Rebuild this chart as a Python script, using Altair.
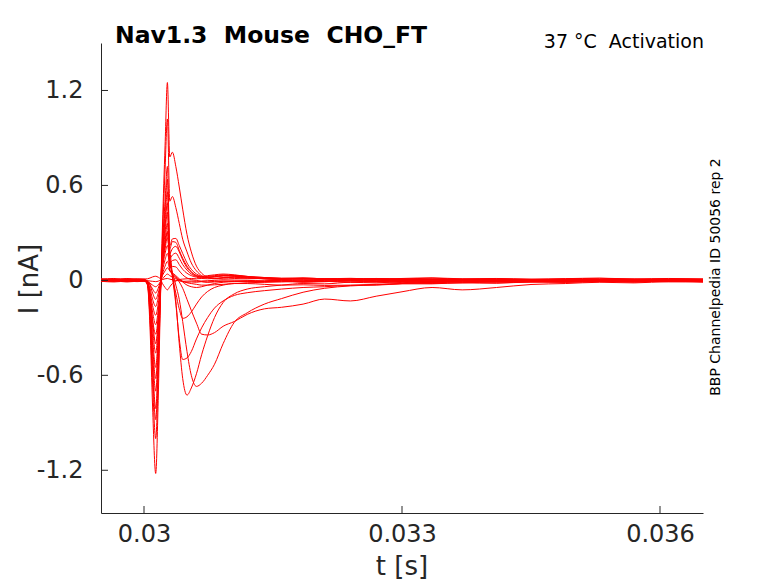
import altair as alt
import pandas as pd

# time grid in ms after 0.030 s
T_MS = [-0.5, -0.35, -0.2, -0.08,
        0.00, 0.04, 0.07, 0.10, 0.136, 0.165, 0.19, 0.215, 0.245, 0.272, 0.30, 0.33,
        0.37, 0.41, 0.45, 0.50, 0.55, 0.61, 0.67, 0.74, 0.82, 0.92, 1.05, 1.2,
        1.4, 1.6, 1.85, 2.1, 2.4, 2.7, 3.0, 3.35, 3.7, 4.1, 4.5, 4.9, 5.3, 5.7, 6.1, 6.5]

tr00 = [0.008, 0.012, 0.006, 0.01,
        0.008, 0.01, 0.015, 0.022, 0.026, 0.02, 0.01, -0.02, -0.045, -0.06, -0.04, -0.02,
        -0.005, 0.005, 0.008, 0.01, 0.012, 0.01, 0.012, 0.01, 0.012, 0.015, 0.012, 0.01,
        0.012, 0.008, 0.014, 0.01, 0.006, 0.012, 0.009, 0.014, 0.008, 0.011, 0.006, 0.01, 0.013, 0.008, 0.01, 0.007]
tr01 = [0.0, -0.004, 0.003, -0.002,
        0.0, -0.002, -0.004, -0.006, -0.008, -0.005, 0.0, 0.005, 0.01, 0.012, 0.008, 0.004,
        0.0, -0.003, -0.006, -0.005, -0.004, -0.006, -0.004, -0.002, 0.0, 0.004, 0.002, 0.0,
        -0.003, 0.002, -0.004, 0.0, 0.004, -0.002, 0.001, -0.004, 0.003, 0.0, -0.003, 0.002, -0.002, 0.003, -0.001, 0.002]
tr02 = [-0.006, -0.01, -0.005, -0.008,
        -0.006, -0.008, -0.018, -0.03, -0.04, -0.028, -0.01, 0.01, 0.028, 0.04, 0.03, 0.02,
        0.01, 0.0, -0.008, -0.012, -0.01, -0.012, -0.008, -0.01, -0.006, -0.004, -0.008, -0.006,
        -0.01, -0.006, -0.012, -0.008, -0.004, -0.01, -0.007, -0.011, -0.005, -0.009, -0.006, -0.01, -0.008, -0.004, -0.009, -0.006]
tr03 = [0.004, 0.0, 0.006, 0.002,
        0.002, -0.004, -0.025, -0.055, -0.08, -0.05, -0.01, 0.03, 0.06, 0.08, 0.06, 0.04,
        0.02, 0.005, -0.005, -0.015, -0.02, -0.025, -0.03, -0.03, -0.028, -0.025, -0.02, -0.015,
        -0.012, -0.01, -0.006, -0.008, -0.003, -0.006, -0.002, -0.005, 0.0, -0.004, 0.002, -0.002, 0.0, -0.003, 0.001, -0.002]
tr04 = [0.005, 0.0, 0.008, 0.003,
        0.0, -0.005, -0.03, -0.08, -0.12, -0.08, -0.02, 0.04, 0.09, 0.12, 0.07, 0.04,
        0.02, -0.01, -0.05, -0.12, -0.19, -0.27, -0.34, -0.345, -0.33, -0.29, -0.26, -0.215,
        -0.18, -0.17, -0.15, -0.118, -0.13, -0.1, -0.072, -0.045, -0.06, -0.045, -0.026, -0.02, -0.012, -0.016, -0.008, -0.012]
tr05 = [-0.005, 0.004, -0.003, 0.002,
        0.0, -0.01, -0.05, -0.12, -0.165, -0.11, -0.03, 0.06, 0.13, 0.17, 0.10, 0.05,
        -0.03, -0.12, -0.26, -0.45, -0.6, -0.67, -0.65, -0.6, -0.53, -0.4, -0.265, -0.205,
        -0.15, -0.115, -0.075, -0.05, -0.035, -0.028, -0.02, -0.012, -0.016, -0.008, -0.01, 0.0, -0.006, 0.002, -0.004, 0.0]
tr06 = [0.0, 0.006, -0.004, 0.003,
        0.0, -0.015, -0.07, -0.16, -0.22, -0.15, -0.04, 0.08, 0.17, 0.22, 0.12, 0.03,
        -0.13, -0.40, -0.62, -0.725, -0.68, -0.59, -0.47, -0.35, -0.235, -0.14, -0.085, -0.055,
        -0.04, -0.03, -0.02, -0.022, -0.012, -0.016, -0.008, -0.012, -0.004, -0.008, -0.002, -0.006, 0.0, -0.004, 0.002, -0.003]
tr07 = [0.004, -0.003, 0.005, -0.002,
        0.0, -0.02, -0.09, -0.2, -0.28, -0.19, -0.05, 0.1, 0.2, 0.27, 0.15, 0.02,
        -0.15, -0.37, -0.5, -0.49, -0.45, -0.37, -0.3, -0.235, -0.175, -0.13, -0.095, -0.078,
        -0.065, -0.055, -0.045, -0.04, -0.032, -0.03, -0.022, -0.02, -0.014, -0.016, -0.01, -0.012, -0.006, -0.01, -0.004, -0.008]
tr08 = [-0.003, 0.005, 0.0, 0.004,
        0.0, -0.025, -0.11, -0.25, -0.34, -0.23, -0.06, 0.12, 0.24, 0.3, 0.2, 0.04,
        -0.08, -0.18, -0.24, -0.23, -0.2, -0.15, -0.105, -0.07, -0.045, -0.03, -0.02, -0.02,
        -0.025, -0.03, -0.028, -0.032, -0.03, -0.025, -0.02, -0.022, -0.015, -0.018, -0.01, -0.012, -0.006, -0.01, -0.004, -0.006]
tr09 = [0.006, 0.002, 0.008, 0.004,
        0.004, -0.01, -0.1, -0.26, -0.40, -0.25, -0.045, 0.09, 0.22, 0.31, 0.06, 0.047,
        0.03, 0.01, -0.01, -0.03, -0.04, -0.045, -0.04, -0.03, -0.02, -0.012, -0.008, -0.005,
        -0.004, 0.0, -0.006, 0.002, -0.003, 0.004, 0.0, -0.005, 0.002, -0.002, 0.004, 0.0, -0.004, 0.003, -0.001, 0.002]
tr10 = [-0.002, -0.006, 0.0, -0.004,
        -0.002, -0.011, -0.11, -0.3, -0.46, -0.28, -0.05, 0.1, 0.25, 0.36, 0.08, 0.088,
        0.085, 0.06, 0.035, 0.015, 0.005, 0.0, -0.008, -0.012, -0.01, -0.006, -0.004, -0.006,
        -0.008, -0.004, -0.01, -0.006, -0.012, -0.008, -0.014, -0.01, -0.006, -0.01, -0.004, -0.008, -0.005, -0.009, -0.004, -0.007]
tr11 = [0.01, 0.006, 0.012, 0.008,
        0.008, -0.005, -0.13, -0.36, -0.55, -0.34, -0.06, 0.12, 0.3, 0.43, 0.11, 0.125,
        0.13, 0.1, 0.07, 0.045, 0.03, 0.02, 0.015, 0.018, 0.022, 0.028, 0.025, 0.02,
        0.016, 0.012, 0.015, 0.01, 0.013, 0.008, 0.012, 0.016, 0.01, 0.012, 0.008, 0.011, 0.014, 0.009, 0.012, 0.01]
tr12 = [-0.004, 0.002, -0.006, 0.0,
        0.0, -0.015, -0.15, -0.41, -0.62, -0.38, -0.07, 0.14, 0.34, 0.49, 0.14, 0.16,
        0.172, 0.14, 0.1, 0.065, 0.04, 0.025, 0.02, 0.025, 0.03, 0.035, 0.03, 0.022,
        0.015, 0.01, 0.006, 0.009, 0.004, 0.008, 0.003, 0.006, 0.0, 0.004, 0.001, 0.005, 0.002, 0.006, 0.0, 0.003]
tr13 = [0.003, -0.002, 0.004, 0.0,
        0.002, -0.017, -0.17, -0.46, -0.70, -0.43, -0.08, 0.16, 0.39, 0.56, 0.17, 0.2,
        0.215, 0.18, 0.13, 0.08, 0.05, 0.03, 0.025, 0.03, 0.035, 0.04, 0.035, 0.025,
        0.018, 0.014, 0.012, 0.008, 0.01, 0.005, 0.008, 0.004, 0.007, 0.003, 0.006, 0.002, 0.005, 0.001, 0.004, 0.002]
tr14 = [-0.008, -0.004, -0.01, -0.006,
        -0.006, -0.02, -0.2, -0.53, -0.81, -0.5, -0.09, 0.19, 0.45, 0.64, 0.2, 0.245,
        0.24, 0.19, 0.14, 0.09, 0.055, 0.03, 0.02, 0.02, 0.025, 0.03, 0.028, 0.02,
        0.01, 0.004, 0.0, -0.004, -0.002, -0.006, -0.003, -0.008, -0.004, -0.006, -0.002, -0.005, -0.001, -0.004, 0.0, -0.003]
tr15 = [0.002, 0.006, 0.0, 0.004,
        0.0, -0.02, -0.22, -0.58, -0.88, -0.55, -0.1, 0.22, 0.5, 0.72, 0.22, 0.262,
        0.265, 0.22, 0.17, 0.11, 0.07, 0.04, 0.025, 0.02, 0.022, 0.03, 0.032, 0.025,
        0.018, 0.012, 0.014, 0.01, 0.008, 0.012, 0.006, 0.009, 0.004, 0.007, 0.003, 0.006, 0.004, 0.007, 0.002, 0.005]
tr16 = [-0.002, 0.003, -0.004, 0.0,
        0.0, -0.025, -0.25, -0.66, -1.0, -0.62, -0.12, 0.28, 0.7, 1.02, 0.5, 0.53,
        0.46, 0.36, 0.26, 0.18, 0.11, 0.06, 0.03, 0.015, 0.012, 0.018, 0.02, 0.015,
        0.01, 0.006, 0.01, 0.004, 0.007, 0.002, 0.005, 0.0, 0.004, 0.001, 0.004, -0.001, 0.003, 0.0, 0.002, 0.001]
tr17 = [0.003, -0.001, 0.005, 0.001,
        0.0, -0.03, -0.3, -0.8, -1.22, -0.76, -0.15, 0.35, 0.85, 1.25, 0.78, 0.81,
        0.72, 0.59, 0.45, 0.29, 0.18, 0.09, 0.045, 0.02, 0.01, 0.015, 0.02, 0.015,
        0.01, 0.008, 0.012, 0.006, 0.009, 0.004, 0.007, 0.003, 0.006, 0.002, 0.005, 0.001, 0.004, 0.0, 0.003, 0.001]

TRACES = [tr00, tr01, tr02, tr03, tr04, tr05, tr06, tr07, tr08,
          tr09, tr10, tr11, tr12, tr13, tr14, tr15, tr16, tr17]

Y_TICKS = [-1.2, -0.6, 0.0, 0.6, 1.2]
X_TICKS = [0.03, 0.033, 0.036]

TITLE = "Nav1.3\u00a0\u00a0Mouse\u00a0\u00a0CHO_FT"
RIGHT_TITLE = "37 °C\u00a0\u00a0Activation"
SIDE_TEXT = "BBP Channelpedia ID 50056 rep 2"

rows = []
for k, tr in enumerate(TRACES):
    assert len(tr) == len(T_MS), (k, len(tr))
    for ms, v in zip(T_MS, tr):
        rows.append({"t": 0.03 + ms / 1000.0, "I": v, "trace": k})
df = pd.DataFrame(rows)

W, H = 602, 470
XDOM = [0.0295, 0.0365]
YDOM = [-1.47, 1.5]
FONT = "DejaVu Sans"
AX = "#262626"

xscale = alt.Scale(domain=XDOM, nice=False, zero=False)
yscale = alt.Scale(domain=YDOM, nice=False, zero=False)

XAX = alt.Axis(values=X_TICKS, labelExpr="format(datum.value, '.3~f')", title=None,
               ticks=False, tickSize=0, labelPadding=9, labelFontSize=24,
               labelFont=FONT, labelColor=AX, domainColor=AX, grid=False,
               labelFlush=False, labelOverlap=False)
YAX = alt.Axis(values=Y_TICKS,
               labelExpr="datum.value == 0 ? '0' : (datum.value < 0 ? '-' : '') + format(abs(datum.value), '.1f')",
               title=None, ticks=False, tickSize=0, labelPadding=18, labelFontSize=24,
               labelFont=FONT, labelColor=AX, domainColor=AX, grid=False,
               labelFlush=False, labelOverlap=False)

lines = alt.Chart(df).mark_line(color="#ff0000", strokeWidth=1, interpolate="monotone", clip=True).encode(
    x=alt.X("t:Q", scale=xscale, axis=XAX),
    y=alt.Y("I:Q", scale=yscale, axis=YAX),
    detail="trace:N",
)

ytick_df = pd.DataFrame({"v": Y_TICKS})
xtick_df = pd.DataFrame({"v": X_TICKS})

yticks = alt.Chart(ytick_df).mark_rule(color=AX, strokeWidth=1).encode(
    y=alt.Y("v:Q", scale=yscale, axis=YAX),
    x=alt.value(0), x2=alt.value(7),
)
xticks = alt.Chart(xtick_df).mark_rule(color=AX, strokeWidth=1).encode(
    x=alt.X("v:Q", scale=xscale, axis=XAX),
    y=alt.value(H), y2=alt.value(H - 7),
)

one = pd.DataFrame({"a": [0]})

title = alt.Chart(one).mark_text(text=TITLE, font=FONT, fontSize=23.5, fontWeight="bold",
                                 align="left", baseline="alphabetic", color="#000000").encode(
    x=alt.value(14), y=alt.value(0))
rtitle = alt.Chart(one).mark_text(text=RIGHT_TITLE, font=FONT, fontSize=19,
                                  align="right", baseline="alphabetic", color="#000000").encode(
    x=alt.value(603), y=alt.value(5))
side = alt.Chart(one).mark_text(text=SIDE_TEXT, font=FONT, fontSize=14, angle=270,
                                align="center", baseline="middle", color="#000000").encode(
    x=alt.value(615), y=alt.value(234))
xlabel = alt.Chart(one).mark_text(text="t [s]", font=FONT, fontSize=26,
                                  align="center", baseline="alphabetic", color=AX).encode(
    x=alt.value(301), y=alt.value(532))
ylabel = alt.Chart(one).mark_text(text="I [nA]", font=FONT, fontSize=26, angle=270,
                                  align="center", baseline="middle", color=AX).encode(
    x=alt.value(-71), y=alt.value(236))

chart = alt.layer(lines, yticks, xticks, title, rtitle, side, xlabel, ylabel).properties(
    width=W, height=H,
    autosize=alt.AutoSizeParams(type="none"),
    padding={"left": 93, "top": 35, "right": 60, "bottom": 68},
).configure_view(stroke=None).configure_axis(domainWidth=1)

chart.save("out.html", embed_options={"renderer": "svg", "actions": False})
